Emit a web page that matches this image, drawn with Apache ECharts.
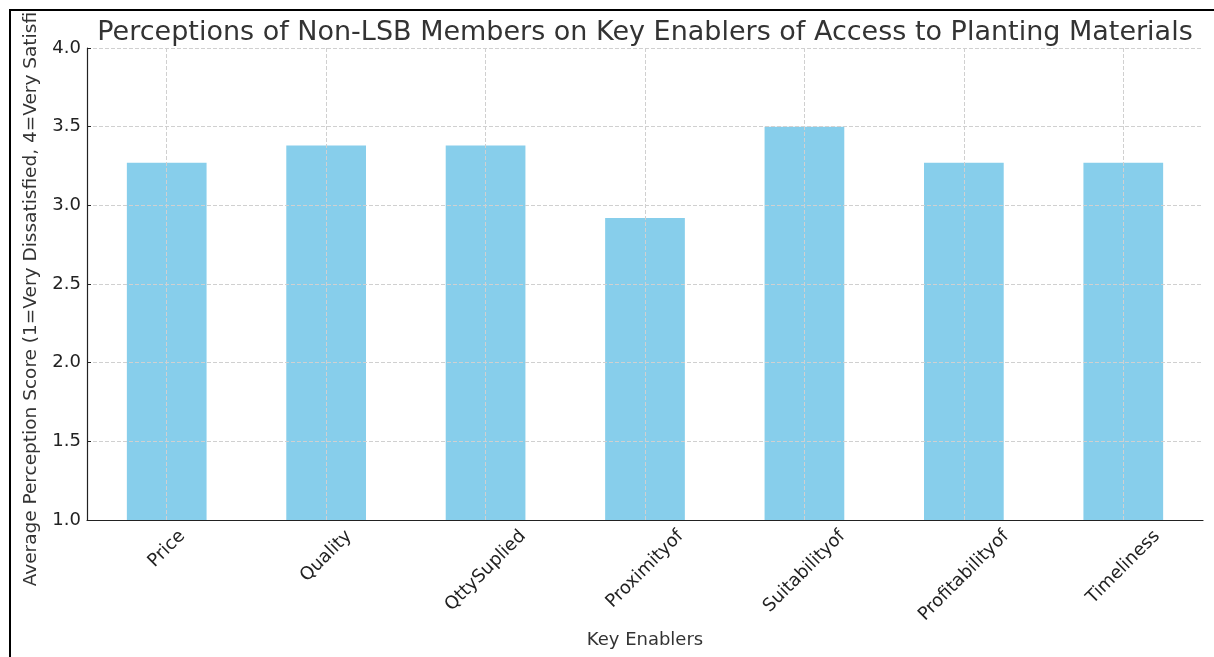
<!DOCTYPE html>
<html>
<head>
<meta charset="utf-8">
<title>Perceptions of Non-LSB Members</title>
<script src="https://cdn.jsdelivr.net/npm/echarts@6/dist/echarts.min.js"></script>
<style>
  html, body { margin: 0; padding: 0; background: #fff; }
  #frame {
    position: absolute; left: 9px; top: 9px;
    width: 1205px; height: 648px;
    border-left: 2px solid #000; border-top: 2px solid #000;
    overflow: hidden;
  }
  #main { width: 1203px; height: 646px; }
</style>
</head>
<body>
<div id="frame"><div id="main"></div></div>
<script>
// categories and mean scores
var enablers = ['Price', 'Quality', 'QttySuplied', 'Proximityof', 'Suitabilityof', 'Profitabilityof', 'Timeliness'];
var scores = [3.27, 3.38, 3.38, 2.92, 3.50, 3.27, 3.27];

var font = 'DejaVu Sans';
var labelSize = 18;

// rotated labels are centred under their tick with the top of their box
// at a fixed distance (matplotlib style) -> shift each one by its own length
var ctx = document.createElement('canvas').getContext('2d');
ctx.font = labelSize + 'px "' + font + '"';
var rich = {};
enablers.forEach(function (name, i) {
  var L = ctx.measureText(name).width;
  var h = labelSize * 1.17;
  var p = (L + h) / 2;
  rich['c' + i] = { fontFamily: font, fontSize: labelSize, color: '#222', padding: [p, p, 0, 0] };
});

var myChart = echarts.init(document.getElementById('main'));

myChart.setOption({
  animation: false,
  title: {
    text: 'Perceptions of Non-LSB Members on Key Enablers of Access to Planting Materials',
    left: 629, top: 3, textAlign: 'center',
    textStyle: { fontFamily: font, fontSize: 27, fontWeight: 'normal', color: '#333' }
  },
  grid: { left: 76, right: 11, top: 37, bottom: 137, outerBoundsMode: 'none', containLabel: false },
  xAxis: {
    type: 'category',
    data: enablers,
    z: 3,
    name: 'Key Enablers',
    nameLocation: 'middle',
    nameGap: 107,
    nameTextStyle: { fontFamily: font, fontSize: 18, color: '#333' },
    axisLine: { lineStyle: { color: '#222', width: 1.2 } },
    axisTick: { alignWithLabel: true, inside: true, length: 5, lineStyle: { color: '#222' } },
    axisLabel: {
      rotate: 45, margin: 6, align: 'center', verticalAlign: 'middle',
      rich: rich,
      formatter: function (v, i) { return '{c' + i + '|' + v + '}'; }
    },
    splitLine: { show: true, alignWithLabel: true, lineStyle: { color: '#d0d0d0', type: 'dashed', width: 1 } }
  },
  yAxis: {
    type: 'value',
    min: 1, max: 4, interval: 0.5,
    z: 3,
    name: 'Average Perception Score (1=Very Dissatisfied, 4=Very Satisfied)',
    nameLocation: 'middle',
    nameGap: 46,
    nameTextStyle: { fontFamily: font, fontSize: 18.5, color: '#333' },
    axisLine: { show: true, lineStyle: { color: '#222', width: 1.2 } },
    axisTick: { show: true, inside: true, length: 4, lineStyle: { color: '#222' } },
    axisLabel: {
      fontFamily: font, fontSize: 18, color: '#222', margin: 6,
      formatter: function (v) { return v.toFixed(1); }
    },
    splitLine: { show: true, lineStyle: { color: '#d0d0d0', type: 'dashed', width: 1 } }
  },
  series: [{
    type: 'bar',
    data: scores,
    barWidth: '50%',
    itemStyle: { color: '#87CEEB' }
  }]
});
</script>
</body>
</html>
